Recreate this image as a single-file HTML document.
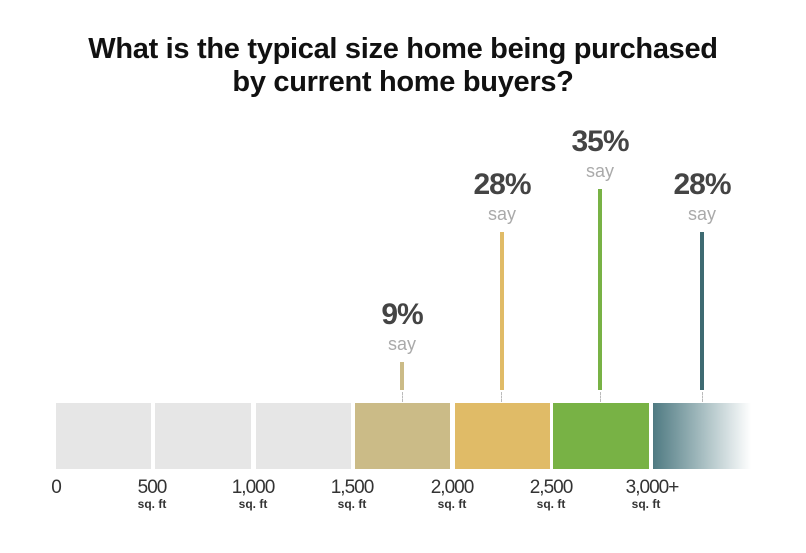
<!DOCTYPE html>
<html><head><style>
body{margin:0;background:#fff;width:806px;height:553px;position:relative;overflow:hidden;font-family:"Liberation Sans",sans-serif}
.t{position:absolute;left:0;width:806px;text-align:center;font-weight:bold;font-size:29px;color:#111;letter-spacing:-0.3px}
.seg{position:absolute;top:403px;height:66px}
.stem{position:absolute;width:4px}
.pct{position:absolute;width:100px;text-align:center;font-weight:bold;font-size:30px;color:#444;letter-spacing:-1px}
.say{position:absolute;width:100px;text-align:center;font-size:18px;color:#aaa}
.tick{position:absolute;top:392px;height:10px;border-left:1px dashed #bbb}
.n{position:absolute;width:80px;text-align:center;font-size:19px;color:#333;top:477px;letter-spacing:-1px}
.s{position:absolute;width:80px;text-align:center;font-size:12px;font-weight:bold;color:#333;top:497px}
</style></head><body>
<div class="t" style="top:33px">What is the typical size home being purchased</div>
<div class="t" style="top:66px">by current home buyers?</div>

<div class="seg" style="left:56px;width:95px;background:#e6e6e6"></div>
<div class="seg" style="left:155px;width:96px;background:#e6e6e6"></div>
<div class="seg" style="left:256px;width:95px;background:#e6e6e6"></div>
<div class="seg" style="left:355px;width:95px;background:#cbbb87"></div>
<div class="seg" style="left:455px;width:95px;background:#e0bb67"></div>
<div class="seg" style="left:553px;width:96px;background:#78b245"></div>
<div class="seg" style="left:653px;width:98px;background:linear-gradient(to right,#4f7a82,#9db6ba 45%,#fff)"></div>

<div class="tick" style="left:402px"></div><div class="tick" style="left:501px"></div>
<div class="tick" style="left:600px"></div><div class="tick" style="left:702px"></div>

<div class="stem" style="left:400px;top:362px;height:28px;background:#cbbb87"></div>
<div class="stem" style="left:500px;top:232px;height:158px;background:#e0bb67"></div>
<div class="stem" style="left:598px;top:189px;height:201px;background:#78b245"></div>
<div class="stem" style="left:700px;top:232px;height:158px;background:#3e6b72"></div>

<div class="pct" style="left:352px;top:298px">9%</div><div class="say" style="left:352px;top:334px">say</div>
<div class="pct" style="left:452px;top:168px">28%</div><div class="say" style="left:452px;top:204px">say</div>
<div class="pct" style="left:550px;top:125px">35%</div><div class="say" style="left:550px;top:161px">say</div>
<div class="pct" style="left:652px;top:168px">28%</div><div class="say" style="left:652px;top:204px">say</div>

<div class="n" style="left:16px">0</div>
<div class="n" style="left:112px">500</div><div class="s" style="left:112px">sq. ft</div>
<div class="n" style="left:213px">1,000</div><div class="s" style="left:213px">sq. ft</div>
<div class="n" style="left:312px">1,500</div><div class="s" style="left:312px">sq. ft</div>
<div class="n" style="left:412px">2,000</div><div class="s" style="left:412px">sq. ft</div>
<div class="n" style="left:511px">2,500</div><div class="s" style="left:511px">sq. ft</div>
<div class="n" style="left:612px">3,000+</div><div class="s" style="left:606px">sq. ft</div>
</body></html>
